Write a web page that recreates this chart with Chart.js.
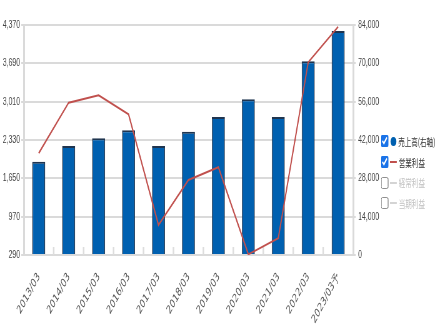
<!DOCTYPE html>
<html>
<head>
<meta charset="utf-8">
<script src="https://cdn.jsdelivr.net/npm/chart.js@4.4.1/dist/chart.umd.min.js"></script>
<style>
    body { margin: 0; background: #fff; }
    #wrap { position: relative; width: 436px; height: 332px; overflow: hidden; }
    /* the whole panel is laid out wide and squeezed horizontally */
    #panel {
        position: absolute; left: 0; top: 0; width: 698px; height: 332px;
        transform: scaleX(0.625); transform-origin: 0 0;
    }
    #legend {
        position: absolute; left: 609px; top: 131px;
        font-family: "Noto Sans CJK JP", sans-serif; font-size: 10.5px; color: #333;
    }
    #legend label { display: flex; align-items: center; height: 20.7px; white-space: nowrap; }
    #legend input { width: 13px; height: 12px; margin: 0 2px 0 0; accent-color: #1a73e8; }
    #legend .dot { display: inline-block; width: 9px; height: 9px; border-radius: 50%; background: #0060b0; margin: 0 3px 0 1px; }
    #legend .bar { display: inline-block; width: 11px; height: 2px; margin: 0 3px 0 0; }
    #legend .off { color: #c0c0c0; }
</style>
</head>
<body>
<div id="wrap">
  <div id="panel">
    <canvas id="chart" width="698" height="332"></canvas>
    <div id="legend">
        <label><input type="checkbox" checked><span class="dot"></span><span>売上高(右軸)</span></label>
        <label><input type="checkbox" checked><span class="bar" style="background:#c0504d"></span><span>営業利益</span></label>
        <label class="off"><input type="checkbox"><span class="bar" style="background:#d4d4d4"></span><span>経常利益</span></label>
        <label class="off"><input type="checkbox"><span class="bar" style="background:#d4d4d4"></span><span>当期利益</span></label>
    </div>
  </div>
</div>
<script>
// Fiscal years
const periods = ['2013/03', '2014/03', '2015/03', '2016/03', '2017/03', '2018/03',
    '2019/03', '2020/03', '2021/03', '2022/03', '2023/03予'];

// Net sales (right axis)
const sales = [34070, 39800, 42620, 45540, 39800, 45030, 50400, 56860, 50400, 70740, 81800];

// Operating income (left axis)
const operatingIncome = [2094, 2992, 3123, 2786, 822, 1620, 1846, 302, 586, 3708, 4340];

// Axis ticks
const leftTicks = [290, 970, 1650, 2330, 3010, 3690, 4370];
const rightTicks = [0, 14000, 28000, 42000, 56000, 70000, 84000];

const tickFont = { family: '"Liberation Sans", Arial, sans-serif', size: 11 };

// short marks between categories along the bottom edge
const categoryMarks = {
    id: 'categoryMarks',
    beforeDatasetsDraw(chart) {
        const x = chart.scales.x;
        const area = chart.chartArea;
        const step = x.getPixelForValue(1) - x.getPixelForValue(0);
        const ctx = chart.ctx;
        ctx.save();
        ctx.strokeStyle = '#dddddd';
        ctx.lineWidth = 2.5;
        for (let i = 1; i < periods.length; i++) {
            const px = x.getPixelForValue(i) - step / 2;
            ctx.beginPath();
            ctx.moveTo(px, area.bottom - 8);
            ctx.lineTo(px, area.bottom);
            ctx.stroke();
        }
        ctx.restore();
    }
};

new Chart(document.getElementById('chart'), {
    data: {
        labels: periods,
        datasets: [{
            type: 'line',
            label: '営業利益',
            data: operatingIncome,
            yAxisID: 'yL',
            borderColor: '#c0504d',
            borderWidth: 2,
            tension: 0,
            pointRadius: 0,
            order: 0
        }, {
            type: 'bar',
            label: '売上高(右軸)',
            data: sales,
            yAxisID: 'yR',
            backgroundColor: '#0060b0',
            borderColor: '#1f3550',
            borderWidth: { top: 2, left: 1.5, right: 1.5, bottom: 0 },
            borderSkipped: false,
            categoryPercentage: 1,
            barPercentage: 0.434,
            order: 1
        }]
    },
    options: {
        responsive: false,
        animation: false,
        layout: { padding: { top: 25, left: 0, right: 0, bottom: 0 } },
        plugins: {
            legend: { display: false },
            tooltip: { enabled: false }
        },
        scales: {
            x: {
                offset: true,
                grid: { display: false },
                border: { display: false },
                ticks: {
                    autoSkip: false,
                    maxRotation: 50,
                    minRotation: 50,
                    padding: 7,
                    color: '#555',
                    font: { family: '"DejaVu Sans", sans-serif', size: 12 }
                },
                afterFit(scale) { scale.height = 77; }
            },
            yL: {
                position: 'left',
                min: leftTicks[0],
                max: leftTicks[leftTicks.length - 1],
                afterBuildTicks(scale) { scale.ticks = leftTicks.map(v => ({ value: v })); },
                grid: { color: '#dadada', lineWidth: 2, tickLength: 4 },
                border: { color: '#dadada', width: 3 },
                ticks: {
                    padding: 2,
                    color: '#444',
                    font: tickFont,
                    callback: v => v.toLocaleString('en-US')
                },
                afterFit(scale) { scale.width = 38; }
            },
            yR: {
                position: 'right',
                min: rightTicks[0],
                max: rightTicks[rightTicks.length - 1],
                afterBuildTicks(scale) { scale.ticks = rightTicks.map(v => ({ value: v })); },
                grid: { drawOnChartArea: false, color: '#dadada', lineWidth: 2, tickLength: 4 },
                border: { color: '#dadada', width: 3 },
                ticks: {
                    padding: 4,
                    color: '#444',
                    font: tickFont,
                    callback: v => v.toLocaleString('en-US')
                },
                afterFit(scale) { scale.width = 133; }
            }
        }
    },
    plugins: [categoryMarks]
});
</script>
</body>
</html>
